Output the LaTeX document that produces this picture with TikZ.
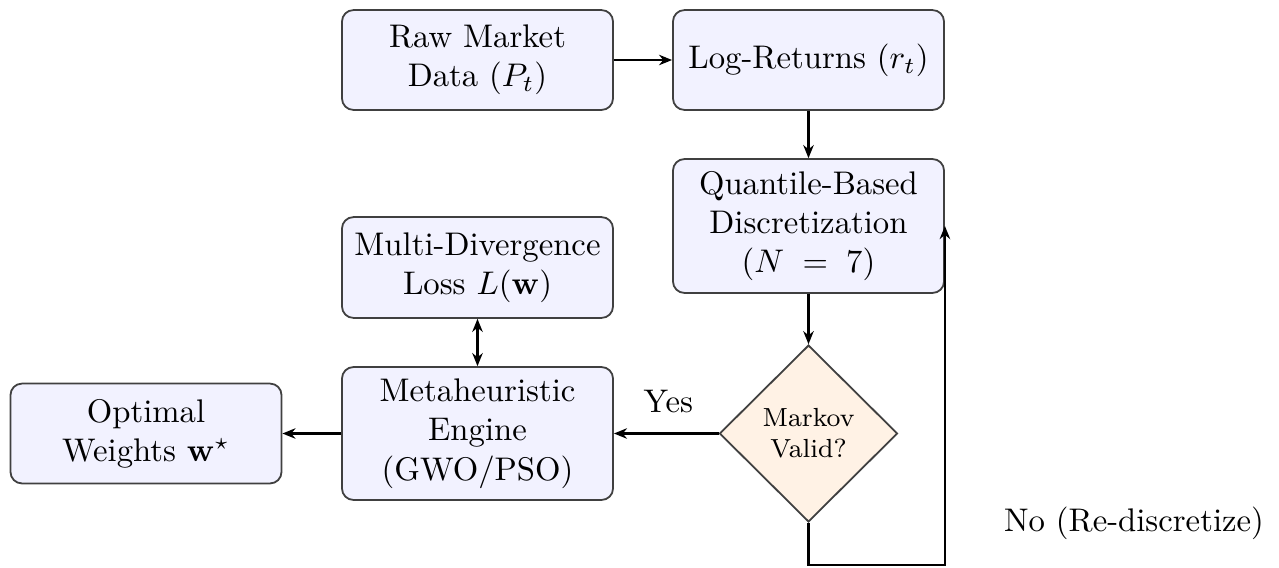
\documentclass[tikz,border=0pt]{standalone}
\usetikzlibrary{shapes.geometric,arrows.meta}
\begin{document}
\begin{tikzpicture}[x=0.3055pt,y=-0.3055pt,
  box/.style={draw=black!75,line width=0.55pt,fill=blue!5,rounded corners=3.5pt,
    align=center,inner sep=2pt,minimum width=82.8pt},
  decision/.style={draw=black!75,line width=0.55pt,fill=orange!10,diamond,aspect=1,
    inner sep=0pt,minimum width=54.4pt,minimum height=54pt,align=center,font=\footnotesize},
  conn/.style={line width=0.65pt,-{Stealth[length=4pt,width=3.2pt]}},
  lbl/.style={inner sep=0pt}]
\useasboundingbox (0,0) rectangle (1279,567);
\node[box,minimum height=30.5pt] (raw) at (477.5,60) {Raw Market\\Data $(P_t)$};
\node[box,minimum height=30.5pt] (log) at (808.5,60) {Log-Returns $(r_t)$};
\node[box,minimum height=40.9pt] (quant) at (808.5,226) {Quantile-Based\\Discretization\\$(N\;=\;7)$};
\node[decision] (markov) at (808.5,433.5) {Markov\\Valid?};
\node[box,minimum height=40.6pt] (meta) at (477.5,433.5) {Metaheuristic\\Engine\\(GWO/PSO)};
\node[box,minimum height=30.8pt] (loss) at (477.5,267.5) {Multi-Divergence\\Loss $L(\mathbf{w})$};
\node[box,minimum height=30.5pt] (opt) at (146,433.5) {Optimal\\Weights $\mathbf{w}^{\star}$};
\coordinate (loopc) at (808.5,565);
\draw[conn] (raw) -- (log);
\draw[conn] (log) -- (quant);
\draw[conn] (quant) -- (markov);
\draw[conn] (markov) -- node[lbl,above=6pt,pos=0.48] (yes) {Yes} (meta);
\draw[line width=0.65pt,{Stealth[length=4pt,width=3.2pt]}-{Stealth[length=4pt,width=3.2pt]}] (loss) -- (meta);
\draw[conn] (meta) -- (opt);
\draw[conn] (markov.south) -- (loopc) -| (quant.east);
\node[lbl] (nolbl) at (1134,523) {No (Re-discretize)};
\end{tikzpicture}
\end{document}
